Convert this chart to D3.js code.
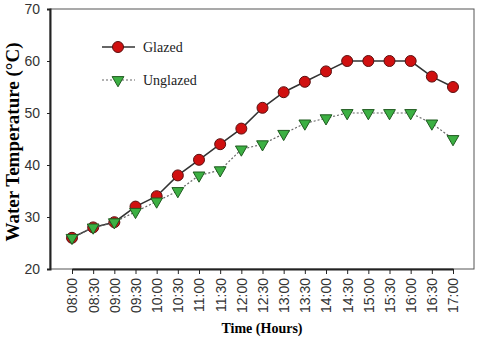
<!DOCTYPE html>
<html>
<head>
<meta charset="utf-8">
<script src="https://cdn.jsdelivr.net/npm/d3@7"></script>
<style>
  body { margin: 0; background: #fff; }
  svg { display: block; }
</style>
</head>
<body>
<div id="chart"></div>
<script>
// time of day (x categories)
const times = ["08:00", "08:30", "09:00", "09:30", "10:00", "10:30", "11:00", "11:30", "12:00",
  "12:30", "13:00", "13:30", "14:00", "14:30", "15:00", "15:30", "16:00", "16:30", "17:00"];
// water temperature, deg C
const glazed = [26, 28, 29, 32, 34, 38, 41, 44, 47, 51, 54, 56, 58, 60, 60, 60, 60, 57, 55];
const unglazed = [26, 28, 29, 31, 33, 35, 38, 39, 43, 44, 46, 48, 49, 50, 50, 50, 50, 48, 45];
const yTicks = [20, 30, 40, 50, 60, 70];

const W = 480, H = 339;
const margin = { top: 9, right: 6, bottom: 70, left: 50 };
const width = W - margin.left - margin.right,
  height = H - margin.top - margin.bottom;

const svg = d3.select("#chart").append("svg")
  .attr("width", W)
  .attr("height", H);

const g = svg.append("g")
  .attr("transform", "translate(" + margin.left + "," + margin.top + ")");

// x is a point scale over the times, padded so 08:00 sits in from the axis
const x = d3.scalePoint()
  .domain(times)
  .range([22, 403]);

const y = d3.scaleLinear()
  .domain([20, 70])
  .range([height, 0]);

// frame: light top/right, dark left/bottom
g.append("rect")
  .attr("x", 0).attr("y", 0)
  .attr("width", width).attr("height", height)
  .attr("fill", "none")
  .attr("stroke", "#555")
  .attr("stroke-width", 1);

// y axis
const yAxis = g.append("g")
  .call(d3.axisLeft(y).tickValues(yTicks).tickSize(3).tickPadding(7));
yAxis.select(".domain").attr("stroke", "#222").attr("stroke-width", 2);
yAxis.selectAll("line").attr("stroke", "#222");
yAxis.selectAll("text")
  .attr("fill", "#333")
  .style("font-family", "Liberation Sans, Arial, sans-serif")
  .style("font-size", "14px");

// x axis
const xAxis = g.append("g")
  .attr("transform", "translate(0," + height + ")")
  .call(d3.axisBottom(x).tickSize(5).tickSizeOuter(0));
xAxis.select(".domain").attr("stroke", "#222").attr("stroke-width", 2);
xAxis.selectAll("line").attr("stroke", "#222");
xAxis.selectAll("text")
  .attr("fill", "#333")
  .style("font-family", "Liberation Sans, Arial, sans-serif")
  .style("font-size", "14px")
  .attr("transform", "rotate(-90)")
  .attr("x", -9)
  .attr("y", 0)
  .attr("dy", "0.35em")
  .style("text-anchor", "end");

// axis titles
svg.append("text")
  .attr("transform", "translate(19," + (margin.top + height / 2 + 3) + ") rotate(-90)")
  .attr("text-anchor", "middle")
  .style("font-family", "Liberation Serif, Times New Roman, serif")
  .style("font-weight", "bold")
  .style("font-size", "19px")
  .text("Water Temperature (\u00B0C)");

svg.append("text")
  .attr("x", margin.left + width / 2)
  .attr("y", 333)
  .attr("text-anchor", "middle")
  .style("font-family", "Liberation Serif, Times New Roman, serif")
  .style("font-weight", "bold")
  .style("font-size", "14px")
  .text("Time (Hours)");

const line = d3.line()
  .x((d, i) => x(times[i]))
  .y((d) => y(d));

const tri = d3.symbol().type(d3.symbolTriangle).size(60);

// glazed series
g.append("path")
  .datum(glazed)
  .attr("fill", "none")
  .attr("stroke", "#333")
  .attr("stroke-width", 1.6)
  .attr("d", line);
g.selectAll(".glz")
  .data(glazed)
  .join("circle")
  .attr("class", "glz")
  .attr("cx", (d, i) => x(times[i]))
  .attr("cy", (d) => y(d))
  .attr("r", 5.5)
  .attr("fill", "#d01010")
  .attr("stroke", "#5a1010")
  .attr("stroke-width", 1);

// unglazed series
g.append("path")
  .datum(unglazed)
  .attr("fill", "none")
  .attr("stroke", "#666")
  .attr("stroke-width", 1.2)
  .attr("stroke-dasharray", "2,2")
  .attr("d", line);
g.selectAll(".ugl")
  .data(unglazed)
  .join("path")
  .attr("class", "ugl")
  .attr("transform", (d, i) => "translate(" + x(times[i]) + "," + y(d) + ") rotate(180)")
  .attr("d", tri)
  .attr("fill", "#3cb043")
  .attr("stroke", "#1f5a1f")
  .attr("stroke-width", 1);

// legend
const legend = svg.append("g");
const items = [
  { name: "Glazed", yPos: 47 },
  { name: "Unglazed", yPos: 80 }
];
items.forEach((it, k) => {
  const row = legend.append("g").attr("transform", "translate(0," + it.yPos + ")");
  row.append("line")
    .attr("x1", 102).attr("x2", 135)
    .attr("stroke", k === 0 ? "#333" : "#666")
    .attr("stroke-width", k === 0 ? 1.6 : 1.2)
    .attr("stroke-dasharray", k === 0 ? null : "2,2");
  if (k === 0) {
    row.append("circle")
      .attr("cx", 118).attr("r", 5.5)
      .attr("fill", "#d01010")
      .attr("stroke", "#5a1010");
  } else {
    row.append("path")
      .attr("transform", "translate(118,0) rotate(180)")
      .attr("d", tri)
      .attr("fill", "#3cb043")
      .attr("stroke", "#1f5a1f");
  }
  row.append("text")
    .attr("x", 143)
    .attr("dy", "0.35em")
    .style("font-family", "Liberation Serif, Times New Roman, serif")
    .style("font-size", "14px")
    .attr("fill", "#222")
    .text(it.name);
});
</script>
</body>
</html>
